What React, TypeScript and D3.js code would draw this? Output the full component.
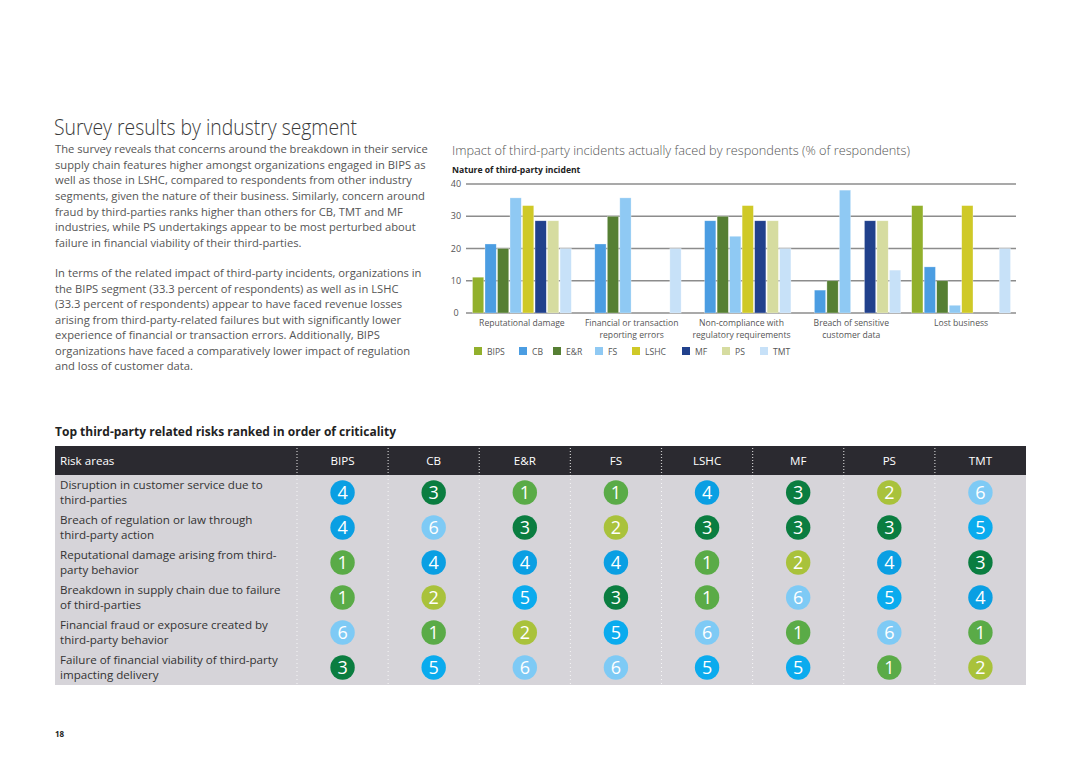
import React from 'react';
import * as d3 from 'd3';

// Bar chart data (% of respondents)
const segments = ['BIPS', 'CB', 'E&R', 'FS', 'LSHC', 'MF', 'PS', 'TMT'];
const segmentColors = ['#92b02c', '#4b9de2', '#567f33', '#8fc9f3', '#cfc927', '#21418c', '#d6dca0', '#c7e1f8'];
const incidentLabels = [
  ['Reputational damage'],
  ['Financial or transaction', 'reporting errors'],
  ['Non-compliance with', 'regulatory requirements'],
  ['Breach of sensitive', 'customer data'],
  ['Lost business'],
];
const reputational = [11.1, 21.4, 20, 35.7, 33.3, 28.6, 28.6, 20];
const financialErrors = [0, 21.4, 30, 35.7, 0, 0, 0, 20];
const nonCompliance = [0, 28.6, 30, 23.8, 33.3, 28.6, 28.6, 20];
const dataBreach = [0, 7.1, 10, 38.1, 0, 28.6, 28.6, 13.3];
const lostBusiness = [33.3, 14.3, 10, 2.4, 33.3, 0, 0, 20];
const incidentValues = [reputational, financialErrors, nonCompliance, dataBreach, lostBusiness];
const yTicks = [0, 10, 20, 30, 40];

// Ranking table
const riskAreas = [
  ['Disruption in customer service due to', 'third-parties'],
  ['Breach of regulation or law through', 'third-party action'],
  ['Reputational damage arising from third-', 'party behavior'],
  ['Breakdown in supply chain due to failure', 'of third-parties'],
  ['Financial fraud or exposure created by', 'third-party behavior'],
  ['Failure of financial viability of third-party', 'impacting delivery'],
];
const ranks = [
  [4, 3, 1, 1, 4, 3, 2, 6],
  [4, 6, 3, 2, 3, 3, 3, 5],
  [1, 4, 4, 4, 1, 2, 4, 3],
  [1, 2, 5, 3, 1, 6, 5, 4],
  [6, 1, 2, 5, 6, 1, 6, 1],
  [3, 5, 6, 6, 5, 5, 1, 2],
];
const rankColors: Record<number, string> = {
  1: '#5aab47',
  2: '#a9c23b',
  3: '#0a7d40',
  4: '#0a9fe3',
  5: '#0aabee',
  6: '#7ecaf5',
};

const para1 = [
  'The survey reveals that concerns around the breakdown in their service',
  'supply chain features higher amongst organizations engaged in BIPS as',
  'well as those in LSHC, compared to respondents from other industry',
  'segments, given the nature of their business. Similarly, concern around',
  'fraud by third-parties ranks higher than others for CB, TMT and MF',
  'industries, while PS undertakings appear to be most perturbed about',
  'failure in financial viability of their third-parties.',
];
const para2 = [
  'In terms of the related impact of third-party incidents, organizations in',
  'the BIPS segment (33.3 percent of respondents) as well as in LSHC',
  '(33.3 percent of respondents) appear to have faced revenue losses',
  'arising from third-party-related failures but with significantly lower',
  'experience of financial or transaction errors. Additionally, BIPS',
  'organizations have faced a comparatively lower impact of regulation',
  'and loss of customer data.',
];

const FONT = '"Open Sans", "Noto Sans", sans-serif';
const W = 1080;
const H = 763;

export default function App() {
  // chart scales
  const x0 = d3.scaleBand<number>()
    .domain(d3.range(incidentValues.length))
    .range([467, 1016])
    .paddingInner(0.1)
    .paddingOuter(0.05);
  const x1 = d3.scaleBand<number>()
    .domain(d3.range(segments.length))
    .range([0, x0.bandwidth()])
    .paddingInner(0.1);
  const y = d3.scaleLinear().domain([0, 40]).range([313, 184]);

  // legend positions
  const legendX = d3.scaleOrdinal<string, number>()
    .domain(segments)
    .range([474, 519, 553, 595, 632, 682, 722, 760]);

  // table scales
  const tableLeft = 55;
  const tableRight = 1026;
  const col = d3.scaleBand<number>().domain(d3.range(segments.length)).range([297, tableRight]);
  const headerTop = 446;
  const headerH = 29;
  const row = d3.scaleBand<number>()
    .domain(d3.range(riskAreas.length))
    .range([headerTop + headerH, headerTop + headerH + 35 * riskAreas.length]);

  return (
    <svg
      width={W}
      height={H}
      style={{ position: 'absolute', left: 0, top: 0, background: '#fff' }}
      fontFamily={FONT}
    >
      {/* left text */}
      <text x={54} y={135} fontSize={22} fontWeight={300} fill="#3a3a3a" textLength={303} lengthAdjust="spacingAndGlyphs">
        Survey results by industry segment
      </text>
      {para1.map((t, i) => (
        <text key={'p1' + i} x={55} y={153 + i * 15.65} fontSize={11.2} fill="#555">{t}</text>
      ))}
      {para2.map((t, i) => (
        <text key={'p2' + i} x={55} y={277 + i * 15.5} fontSize={11.2} fill="#555">{t}</text>
      ))}

      {/* chart titles */}
      <text x={452} y={155} fontSize={13.4} fontWeight={300} fill="#555" textLength={458} lengthAdjust="spacingAndGlyphs">
        Impact of third-party incidents actually faced by respondents (% of respondents)
      </text>
      <text x={452} y={173} fontSize={8.6} fontWeight={700} fill="#222">
        Nature of third-party incident
      </text>

      {/* gridlines */}
      {yTicks.map((t) => (
        <g key={'g' + t}>
          <line x1={466} x2={1016} y1={y(t)} y2={y(t)} stroke="#8c8c8c" strokeWidth={1.4} />
          <text x={456} y={y(t) + 3} fontSize={9} fill="#555" textAnchor="middle">{t}</text>
        </g>
      ))}

      {/* bars */}
      {incidentValues.map((vals, gi) => (
        <g key={'grp' + gi} transform={`translate(${x0(gi)},0)`}>
          {vals.map((v, si) =>
            v > 0 ? (
              <rect
                key={si}
                x={x1(si)}
                y={y(v)}
                width={x1.bandwidth()}
                height={y(0) - y(v)}
                fill={segmentColors[si]}
                stroke="#ffffff"
                strokeOpacity={0.5}
                strokeWidth={0.6}
              />
            ) : null
          )}
        </g>
      ))}
      {incidentLabels.map((lines, gi) => (
        <text
          key={'cl' + gi}
          x={(x0(gi) as number) + x0.bandwidth() / 2}
          y={326}
          fontSize={8.6}
          fill="#555"
          textAnchor="middle"
        >
          {lines.map((l, li) => (
            <tspan key={li} x={(x0(gi) as number) + x0.bandwidth() / 2} dy={li === 0 ? 0 : 11.5}>{l}</tspan>
          ))}
        </text>
      ))}

      {/* legend */}
      {segments.map((s, i) => (
        <g key={'lg' + s}>
          <rect x={legendX(s)} y={347} width={8} height={8} fill={segmentColors[i]} />
          <text x={legendX(s) + 13} y={354.5} fontSize={8.6} fill="#555">{s}</text>
        </g>
      ))}

      {/* table */}
      <text x={55} y={436} fontSize={12} fontWeight={700} fill="#222">
        Top third-party related risks ranked in order of criticality
      </text>
      <rect x={tableLeft} y={headerTop} width={tableRight - tableLeft} height={headerH} fill="#2b2a30" />
      <rect
        x={tableLeft}
        y={headerTop + headerH}
        width={tableRight - tableLeft}
        height={row.range()[1] - row.range()[0]}
        fill="#d6d4d9"
      />
      <text x={60} y={465} fontSize={11.6} fill="#fff">Risk areas</text>
      {segments.map((s, i) => (
        <text
          key={'h' + s}
          x={(col(i) as number) + col.bandwidth() / 2}
          y={465}
          fontSize={11.6}
          fill="#fff"
          textAnchor="middle"
        >
          {s}
        </text>
      ))}
      {segments.map((s, i) => (
        <g key={'sep' + s}>
          <line
            x1={col(i)}
            x2={col(i)}
            y1={headerTop + 2}
            y2={headerTop + headerH}
            stroke="#c9c9c9"
            strokeWidth={1.2}
            strokeDasharray="1 2"
          />
          <line
            x1={col(i)}
            x2={col(i)}
            y1={headerTop + headerH}
            y2={row.range()[1]}
            stroke="#ffffff"
            strokeOpacity={0.8}
            strokeWidth={1}
            strokeDasharray="1 3"
          />
        </g>
      ))}
      {riskAreas.map((lines, ri) => (
        <g key={'r' + ri}>
          <text x={60} y={(row(ri) as number) + 14} fontSize={11.6} fill="#333">
            {lines.map((l, li) => (
              <tspan key={li} x={60} dy={li === 0 ? 0 : 15}>{l}</tspan>
            ))}
          </text>
          {ranks[ri].map((r, ci) => {
            const cx = (col(ci) as number) + col.bandwidth() / 2;
            const cy = (row(ri) as number) + row.bandwidth() / 2;
            return (
              <g key={ci}>
                <circle cx={cx} cy={cy} r={12.2} fill={rankColors[r]} />
                <text x={cx} y={cy + 6.3} fontSize={18} fill="#fff" textAnchor="middle">{r}</text>
              </g>
            );
          })}
        </g>
      ))}

      <text x={55} y={737} fontSize={8} fontWeight={700} fill="#222">18</text>
    </svg>
  );
}
